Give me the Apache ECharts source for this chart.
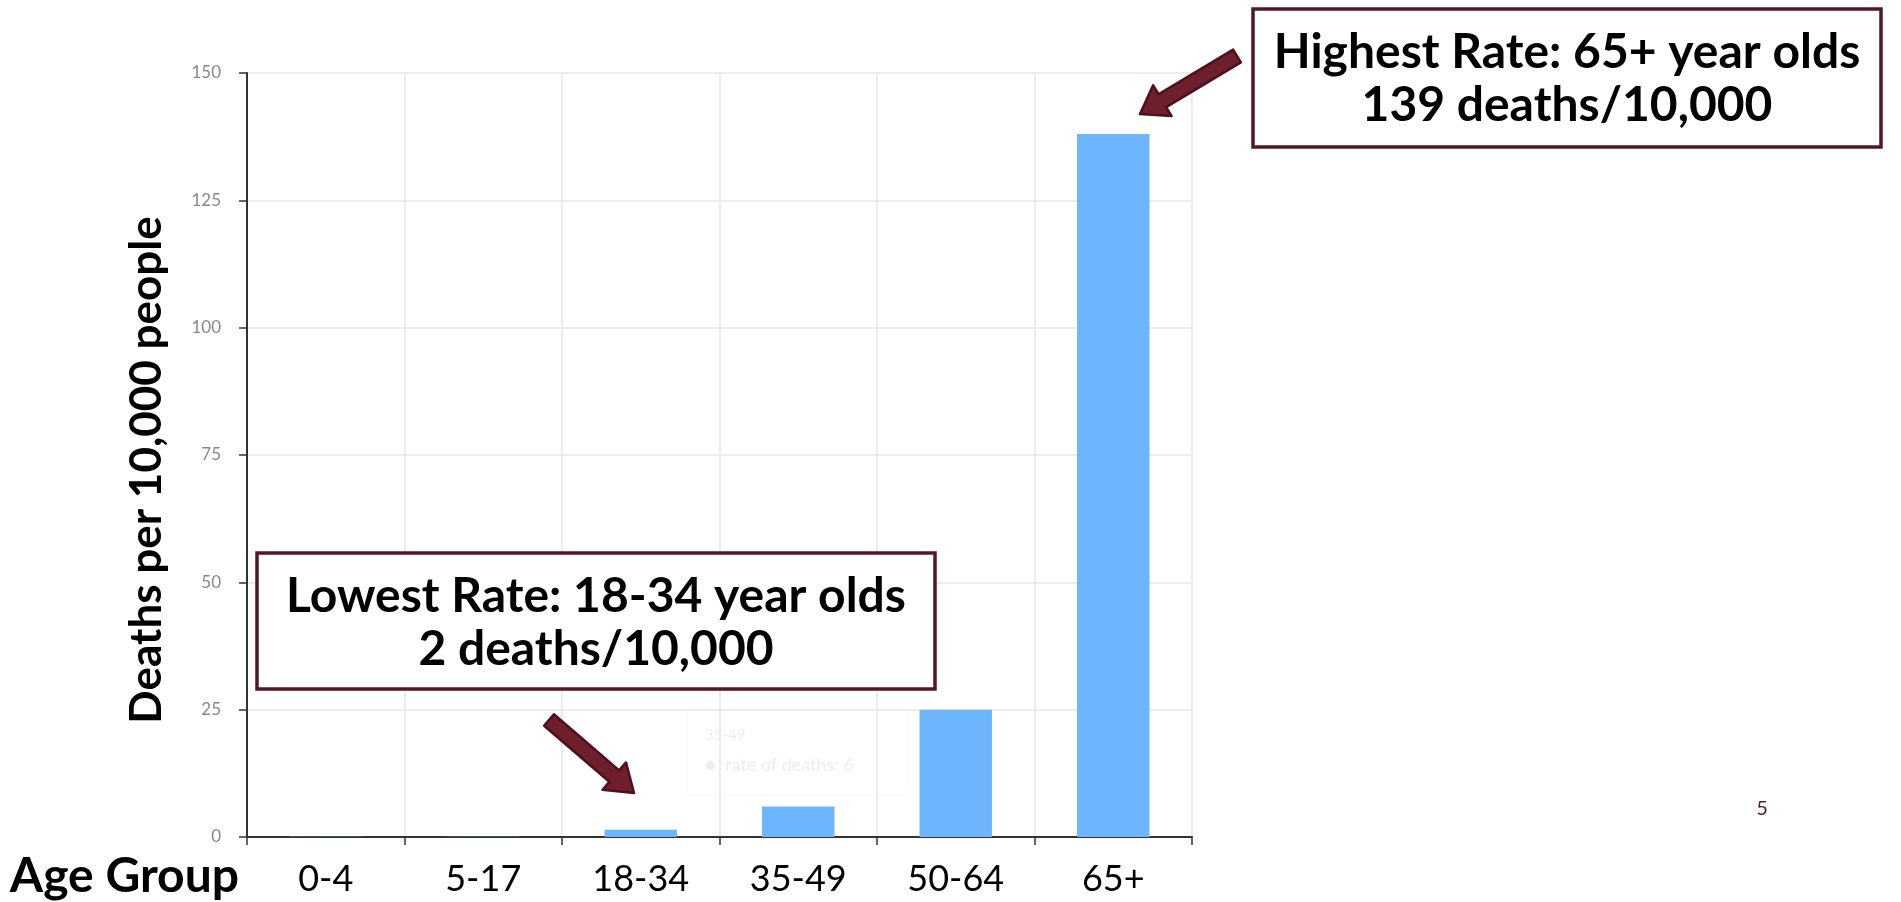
<!DOCTYPE html>
<html>
<head>
<meta charset="utf-8">
<script src="https://cdn.jsdelivr.net/npm/echarts@6/dist/echarts.min.js"></script>
<style>
html,body{margin:0;padding:0;background:#fff;}
#chart{width:1901px;height:902px;}
</style>
</head>
<body>
<div id="chart"></div>
<script>
// ---- data ----
const categories = ['0-4', '5-17', '18-34', '35-49', '50-64', '65+'];
const deathRates = [0.05, 0.05, 1.4, 6, 25, 138];
const yTicks = { min: 0, max: 150, interval: 25 };
const xAxisTitle = 'Age Group';
const yAxisTitle = 'Deaths per 10,000 people';
const highNote = ['Highest Rate: 65+ year olds', '139 deaths/10,000'];
const lowNote = ['Lowest Rate: 18-34 year olds', '2 deaths/10,000'];
const tooltipGhost = ['35-49', '\u25CF  rate of deaths: 6'];
const pageNumber = '5';

const maroon = '#531722';
const arrowFill = '#6f1e2d';
const arrowStroke = '#4c111b';
const ghostOpacity = 0.09;

function arrowPoly(x1, y1, x2, y2, shaftW, headW, headL) {
  const dx = x2 - x1, dy = y2 - y1;
  const L = Math.sqrt(dx * dx + dy * dy);
  const ux = dx / L, uy = dy / L;
  const nx = -uy, ny = ux;
  const bx = x2 - ux * headL, by = y2 - uy * headL;
  const s = shaftW / 2, h = headW / 2;
  return [
    [x1 + nx * s, y1 + ny * s],
    [bx + nx * s, by + ny * s],
    [bx + nx * h, by + ny * h],
    [x2, y2],
    [bx - nx * h, by - ny * h],
    [bx - nx * s, by - ny * s],
    [x1 - nx * s, y1 - ny * s]
  ];
}

const chart = echarts.init(document.getElementById('chart'));
const option = {
  animation: false,
  backgroundColor: '#ffffff',
  grid: { left: 247, right: 709, top: 73, bottom: 65, containLabel: false },
  xAxis: {
    type: 'category',
    data: categories,
    name: xAxisTitle,
    nameLocation: 'start',
    nameGap: 8,
    nameTextStyle: {
      fontFamily: 'Lato', fontWeight: 'bold', fontSize: 48, color: '#000',
      align: 'right', verticalAlign: 'top', padding: [16, 0, 0, 0]
    },
    axisLine: { lineStyle: { color: '#333', width: 2 } },
    axisTick: { show: true, length: 8, lineStyle: { color: '#333', width: 1.5 } },
    axisLabel: { fontFamily: 'Lato', fontSize: 36, color: '#000', margin: 24 },
    splitLine: { show: true, lineStyle: { color: '#e6e6e6', width: 1.5 } }
  },
  yAxis: {
    type: 'value',
    min: yTicks.min, max: yTicks.max, interval: yTicks.interval,
    name: yAxisTitle,
    nameLocation: 'middle',
    nameRotate: 90,
    nameGap: 78,
    nameTextStyle: { fontFamily: 'Lato', fontWeight: 'bold', fontSize: 44, color: '#000',
      padding: [0, 30, 0, 0] },
    axisLine: { show: true, lineStyle: { color: '#333', width: 2 } },
    axisTick: { show: true, length: 8, lineStyle: { color: '#333', width: 1.5 } },
    axisLabel: { fontFamily: 'Lato', fontSize: 17, color: '#888', margin: 26 },
    splitLine: { show: true, lineStyle: { color: '#e6e6e6', width: 1.5 } }
  },
  series: [{
    type: 'bar',
    name: 'rate of deaths',
    data: deathRates,
    barWidth: '46%',
    itemStyle: { color: '#6db5fd' }
  }],
  graphic: [
    // faint fading tooltip
    { type: 'rect', silent: true, shape: { x: 687, y: 709, width: 220, height: 86, r: 3 },
      style: { fill: 'rgba(255,255,255,0)', stroke: '#6db5fd', lineWidth: 1, opacity: ghostOpacity } },
    { type: 'text', silent: true, style: { text: tooltipGhost[0], x: 705, y: 735, fill: '#333',
      fontFamily: 'Lato', fontSize: 15, verticalAlign: 'middle', opacity: ghostOpacity } },
    { type: 'text', silent: true, style: { text: tooltipGhost[1], x: 705, y: 765, fill: '#333',
      fontFamily: 'Lato', fontSize: 18, verticalAlign: 'middle', opacity: ghostOpacity } },
    // high annotation box
    { type: 'rect', shape: { x: 1253, y: 9, width: 628, height: 138 },
      style: { fill: '#fff', stroke: maroon, lineWidth: 3.5 }, z: 10 },
    { type: 'text', z: 11, style: { text: highNote.join('\n'), x: 1567, y: 79,
      fill: '#000', fontFamily: 'Lato', fontWeight: 'bold', fontSize: 48, lineHeight: 53,
      align: 'center', verticalAlign: 'middle' } },
    // low annotation box
    { type: 'rect', shape: { x: 257, y: 553, width: 678, height: 136 },
      style: { fill: '#fff', stroke: maroon, lineWidth: 3.5 }, z: 10 },
    { type: 'text', z: 11, style: { text: lowNote.join('\n'), x: 596, y: 623,
      fill: '#000', fontFamily: 'Lato', fontWeight: 'bold', fontSize: 48, lineHeight: 53,
      align: 'center', verticalAlign: 'middle' } },
    // arrows
    { type: 'polygon', z: 12, shape: { points: arrowPoly(1237, 56, 1140, 114, 15, 36, 26) },
      style: { fill: arrowFill, stroke: arrowStroke, lineWidth: 2.5, lineJoin: 'round' } },
    { type: 'polygon', z: 12, shape: { points: arrowPoly(549, 720, 634, 793, 15, 36, 26) },
      style: { fill: arrowFill, stroke: arrowStroke, lineWidth: 2.5, lineJoin: 'round' } },
    // page number
    { type: 'text', style: { text: pageNumber, x: 1762, y: 809, fill: '#5a1a24',
      fontFamily: 'Lato', fontSize: 20, align: 'center', verticalAlign: 'middle' } }
  ]
};
chart.setOption(option);
</script>
</body>
</html>
